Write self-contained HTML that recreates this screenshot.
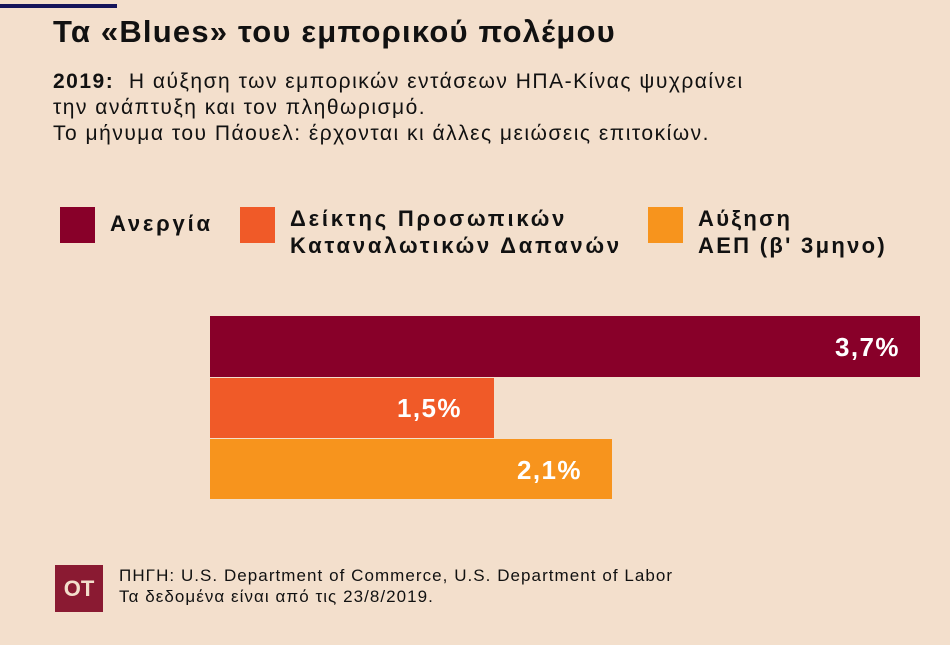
<!DOCTYPE html>
<html><head><meta charset="utf-8"><style>
body{margin:0;width:950px;height:645px;background:#f3dfcc;position:relative;overflow:hidden;font-family:"Liberation Sans","DejaVu Sans",sans-serif;color:#111}
div{position:absolute}
.t{white-space:nowrap}
</style></head><body>
<div style="left:0;top:4px;width:117px;height:4px;background:#14145a"></div>
<div class="t" style="left:53px;top:14px;font-size:31px;font-weight:bold;letter-spacing:1.2px">Τα «Blues» του εμπορικού πολέμου</div>
<div class="t" style="left:53px;top:69px;font-size:21px;line-height:26px;letter-spacing:1.5px"><b>2019:</b>&nbsp; Η αύξηση των εμπορικών εντάσεων ΗΠΑ-Κίνας ψυχραίνει<br>την ανάπτυξη και τον πληθωρισμό.<br>Το μήνυμα του Πάουελ: έρχονται κι άλλες μειώσεις επιτοκίων.</div>
<div style="left:60px;top:207px;width:35px;height:36px;background:#880029"></div>
<div class="t" style="left:110px;top:211px;font-size:22px;font-weight:bold;letter-spacing:2.8px">Ανεργία</div>
<div style="left:240px;top:207px;width:35px;height:36px;background:#f05a28"></div>
<div class="t" style="left:290px;top:205px;font-size:22px;font-weight:bold;line-height:27px;letter-spacing:2.8px">Δείκτης Προσωπικών<br>Καταναλωτικών Δαπανών</div>
<div style="left:648px;top:207px;width:35px;height:36px;background:#f7941d"></div>
<div class="t" style="left:698px;top:205px;font-size:22px;font-weight:bold;line-height:27px;letter-spacing:2.3px">Αύξηση<br>ΑΕΠ (β' 3μηνο)</div>
<div style="left:210px;top:316px;width:710px;height:61px;background:#880029"></div>
<div class="t" style="left:835px;top:332px;font-size:26px;font-weight:bold;color:#fff;letter-spacing:1.4px">3,7%</div>
<div style="left:210px;top:378px;width:284px;height:60px;background:#f05a28"></div>
<div class="t" style="left:397px;top:393px;font-size:26px;font-weight:bold;color:#fff;letter-spacing:1.4px">1,5%</div>
<div style="left:210px;top:439px;width:402px;height:60px;background:#f7941d"></div>
<div class="t" style="left:517px;top:455px;font-size:26px;font-weight:bold;color:#fff;letter-spacing:1.4px">2,1%</div>
<div style="left:55px;top:565px;width:48px;height:47px;background:#8a1a32;color:#f3dfcc;font-weight:bold;font-size:22px;text-align:center;line-height:47px">OT</div>
<div class="t" style="left:119px;top:565px;font-size:17px;line-height:21px;letter-spacing:1.05px">ΠΗΓΗ: U.S. Department of Commerce, U.S. Department of Labor<br>Τα δεδομένα είναι από τις 23/8/2019.</div>
</body></html>
